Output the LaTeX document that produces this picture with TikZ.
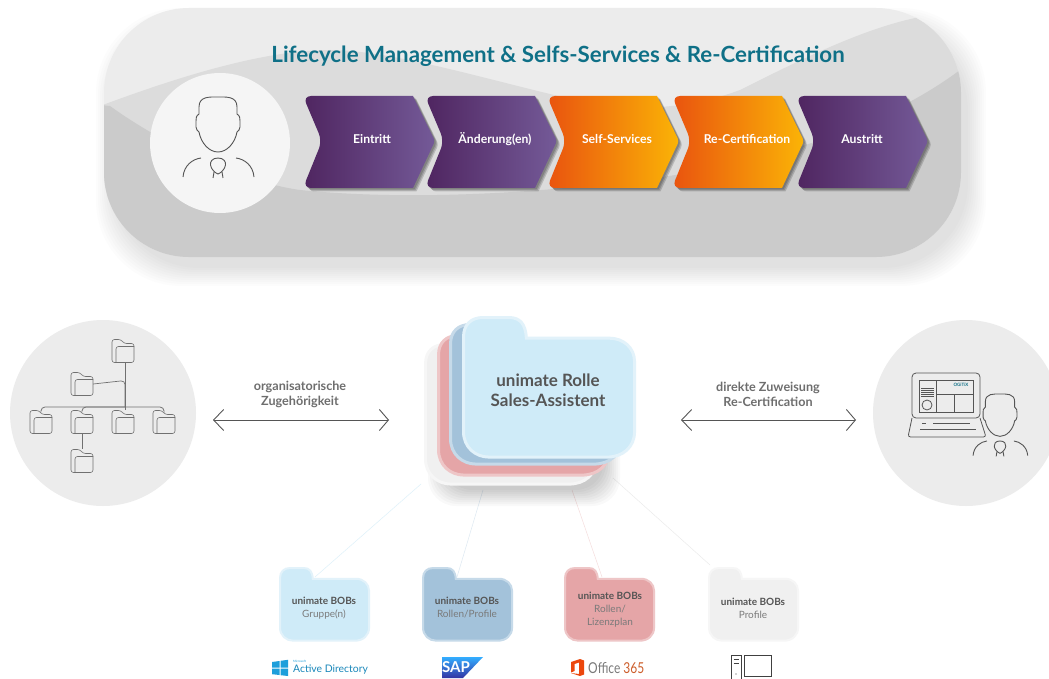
\documentclass[tikz,border=0pt]{standalone}
\usepackage{fontspec}
\setmainfont{Lato}
\usetikzlibrary{arrows.meta,positioning}
\definecolor{bandA}{HTML}{ECECEC}
\definecolor{bandB}{HTML}{DCDCDC}
\definecolor{bandC}{HTML}{CBCBCB}
\definecolor{titleC}{HTML}{0F7087}
\definecolor{txtD}{HTML}{555555}
\definecolor{txtL}{HTML}{7A7A7A}
\definecolor{iconC}{HTML}{555555}
\definecolor{treeC}{HTML}{707070}
\definecolor{purpL}{HTML}{4F2560}
\definecolor{purpR}{HTML}{745A98}
\definecolor{orL}{HTML}{E9530F}
\definecolor{orR}{HTML}{FBB406}
\definecolor{fBlueF}{HTML}{CFEBF8}
\definecolor{fBlueB}{HTML}{E2F2FA}
\definecolor{fSteelF}{HTML}{A3C2DA}
\definecolor{fSteelB}{HTML}{C6DAE9}
\definecolor{fPinkF}{HTML}{E5A5A7}
\definecolor{fPinkB}{HTML}{EEC6C7}
\definecolor{fGreyF}{HTML}{F0F0F0}
\definecolor{fGreyB}{HTML}{F6F6F6}
\tikzset{
  x=1pt,y=-1pt,
  chevlabel/.style={font=\fontsize{12.2}{14}\selectfont\bfseries,text=white,inner sep=0pt},
  arrowlabel/.style={font=\fontsize{12.6}{15}\selectfont\bfseries,text=txtD!85,align=center,inner sep=0pt},
  smalltxt/.style={align=center,inner sep=0pt,font=\fontsize{10}{13}\selectfont,text=txtL},
  twohead/.style={draw=iconC,line width=.9pt,{Straight Barb[length=10pt,width=21pt]}-{Straight Barb[length=9pt,width=21pt]}},
  icon/.style={draw=iconC,line width=.8pt},
  ficon/.style={minimum width=22pt,minimum height=23pt,inner sep=0pt},
  foldericon/.pic={
    \path[draw=treeC,line width=.6pt,fill=none,rounded corners=2.5pt]
      (-11,11.5) -- (-11,-11.5) -- (-2,-11.5) -- (1,-7.5) -- (11,-7.5) -- (11,11.5) -- cycle;
    \path[draw=treeC,line width=.6pt,rounded corners=2.5pt]
      (-7,11.5) -- (-7,-4.5) -- (11,-4.5);
  },
  folderbig/.pic={
    \path[pic actions] (0,20) .. controls (0,7) and (8,0) .. (20,0) -- (46,0)
      .. controls (58,0) and (63,7) .. (64,21) -- (148,21)
      .. controls (163,21) and (174,31) .. (174,45) -- (174,116)
      .. controls (174,132) and (162,142) .. (146,142) -- (26,142)
      .. controls (12,142) and (0,132) .. (0,116) -- cycle;
  },
  personicon/.pic={
    \path[pic actions,line width=.9pt] (0,0)
      .. controls (-8,0) and (-19,-1) .. (-19,10) -- (-19,17)
      .. controls (-22,19) and (-22,21) .. (-22,24) -- (-22,30)
      .. controls (-22,33) and (-20,34) .. (-19,35)
      .. controls (-17,46) and (-9,55) .. (0,55)
      .. controls (9,55) and (17,46) .. (19,35)
      .. controls (20,34) and (22,33) .. (22,30) -- (22,24)
      .. controls (22,21) and (22,19) .. (19,17) -- (19,10)
      .. controls (19,-1) and (8,0) .. (0,0) -- cycle;
    \draw[draw=iconC,line width=.9pt] (-35,80) .. controls (-34,68) and (-25,62) .. (-17,61);
    \draw[draw=iconC,line width=.9pt] (36,80) .. controls (35,68) and (26,62) .. (18,61);
    \draw[draw=iconC,line width=.9pt] (0,61) .. controls (6,61) and (8,65) .. (7.5,68)
      .. controls (7,72) and (3,76) .. (0,77) .. controls (-3,76) and (-7,72) .. (-7.5,68)
      .. controls (-8,65) and (-6,61) .. (0,61) -- cycle;
    \draw[draw=iconC,line width=.9pt] (-4,75) -- (-5,81) (4,75) -- (5,81);
  }
}
\newcommand{\chevshape}{(50,0) [rounded corners=8pt] -- (-2,0) -- (17,45) -- (-2,92) [sharp corners] -- (108,92) [rounded corners=3pt] -- (130,45) [sharp corners] -- (108,0) -- cycle}
\newcommand{\chevron}[6]{%
  \begin{scope}[shift={(#1,96)}]
    \foreach \d in {1.5,2.5,3.5} {\fill[black,opacity=.16,shift={(\d,\d)}] \chevshape;}
    \path[left color=#4,right color=#5] \chevshape;
  \end{scope}
  \node[chevlabel] (#2) at (#6,139) {#3};
}
\begin{document}
\begin{tikzpicture}
\useasboundingbox (0,0) rectangle (1049,679);
\fill[white] (0,0) rectangle (1049,679);
% big panel shadow
\foreach \d in {0,2,...,18} {
  \fill[black,opacity=.012,rounded corners=85pt] (114-\d,26-\d) rectangle (968+\d,268+\d);
}
\begin{scope}
  \clip[rounded corners=85pt] (104,8) rectangle (961,257);
  \fill[bandA] (100,0) rectangle (970,262);
  \fill[bandB] (100,106) .. controls (170,80) and (260,50) .. (330,50)
     .. controls (400,50) and (520,90) .. (600,105)
     .. controls (650,112) and (700,105) .. (740,90)
     .. controls (800,60) and (860,30) .. (915,18) -- (970,10) -- (970,262) -- (100,262) -- cycle;
  \fill[bandC] (100,105) -- (110,106) .. controls (150,135) and (230,180) .. (300,190)
     .. controls (400,200) and (520,195) .. (640,180)
     .. controls (760,165) and (880,130) .. (960,70) -- (970,60) -- (970,262) -- (100,262) -- cycle;
\end{scope}
\node[font=\fontsize{22.3}{26}\selectfont\bfseries,text=titleC,inner sep=0pt] (title) at (558,56) {Lifecycle Management \& Selfs-Services \& Re-Certification};
\node[circle,fill=black!4,minimum size=140pt,inner sep=0pt] (usercircle) at (220,143) {};
\pic[icon,fill=none] at (218,97) {personicon};
\chevron{305}{c1}{Eintritt}{purpL}{purpR}{372}
\chevron{427}{c2}{Änderung(en)}{purpL}{purpR}{495}
\chevron{549}{c3}{Self-Services}{orL}{orR}{617}
\chevron{674}{c4}{Re-Certification}{orL}{orR}{747}
\chevron{798}{c5}{Austritt}{purpL}{purpR}{862}
% side circles
\node[circle,fill=bandA,minimum size=186pt,inner sep=0pt] (orgcircle) at (103,413) {};
\node[circle,fill=bandA,minimum size=186pt,inner sep=0pt] (usrcircle) at (966,413) {};
% folder tree
\node[ficon] (t1) at (123,351) {};
\node[ficon] (t2) at (82,384) {};
\node[ficon] (r1) at (41,422) {};
\node[ficon] (r2) at (82,422) {};
\node[ficon] (r3) at (123,422) {};
\node[ficon] (r4) at (164,422) {};
\node[ficon] (b1) at (82,461) {};
\foreach \n in {t1,t2,r1,r2,r3,r4,b1} {\pic at (\n) {foldericon};}
\coordinate (hub) at (125,407);
\draw[draw=treeC,line width=.7pt] (t1.south -| hub) -- (hub);
\draw[draw=treeC,line width=.7pt,rounded corners=4pt] (t2.east) -- (125,380.5) -- (hub);
\draw[draw=treeC,line width=.8pt,rounded corners=4pt] (r1.north) -- (r1.north |- hub) -- (r4.north |- hub) -- (r4.north);
\draw[draw=treeC,line width=.8pt,rounded corners=4pt] (r2.north) -- (r2.north |- hub) -- (hub);
\draw[draw=treeC,line width=.7pt] (hub) -- (r3.north -| hub);
\draw[draw=treeC,line width=.7pt] (r2.south) -- (b1.north);
% double arrows
\coordinate (al) at (213,420);
\coordinate (ar) at (389,420);
\coordinate (bl) at (681,420);
\coordinate (br) at (856,420);
\draw[twohead] (al) -- (ar);
\draw[twohead] (bl) -- (br);
\node[arrowlabel] (lab1) at (300,394) {organisatorische\\Zugehörigkeit};
\node[arrowlabel] (lab2) at (768,394) {direkte Zuweisung\\Re-Certification};
% laptop
\draw[icon,fill=none,rounded corners=4pt] (912,373) rectangle (980,418);
\draw[icon,fill=none] (919,380) rectangle (973,412);
\draw[icon] (936,380) -- (936,412) (936,394) -- (973,394) (954,394) -- (954,412);
\foreach \yy in {388,390,392,394,396} {\draw[draw=iconC,line width=.4pt] (921,\yy) -- (934,\yy);}
\draw[icon] (927,405) circle (5);
\node[inner sep=0pt,font=\fontsize{4.5}{5}\selectfont\bfseries,text=titleC] (ogitix) at (961,385) {OGiTiX};
\draw[icon,rounded corners=2.5pt] (912,418) -- (908,437) -- (986,437) -- (980,418);
\draw[icon] (922,423) -- (926,423) (933,423) -- (970,423) (920,429) -- (976,429);
\pic[icon,fill=bandA,scale=.77] at (1000,394) {personicon};
% connectors to bobs
\coordinate (ca) at (421,484);
\coordinate (cb) at (483,490);
\coordinate (cc) at (572,490);
\coordinate (cd) at (613,478);
\coordinate (ba) at (315,577);
\coordinate (bb) at (457,577);
\coordinate (bc) at (602,577);
\coordinate (bd) at (710,565);
\draw[draw=fBlueF!70,line width=.5pt] (ca) -- (ba);
\draw[draw=fSteelB!60,line width=.5pt] (cb) -- (bb);
\draw[draw=fPinkB!60,line width=.5pt] (cc) -- (bc);
\draw[draw=black!8,line width=.5pt] (cd) -- (bd);
% centre stack shadow
\foreach \d in {0,2,...,16} {
  \fill[black,opacity=.022,rounded corners=28pt] (444-\d,430-\d) rectangle (604+\d,490+\d);
}
\pic[draw=fGreyB,fill=fGreyF,line width=3pt,scale=.983] at (425.5,344.5) {folderbig};
\pic[draw=fPinkB,fill=fPinkF,line width=3pt,scale=.983] at (438.5,335.5) {folderbig};
\pic[draw=fSteelB,fill=fSteelF,line width=3pt,scale=.983] at (450.5,324.5) {folderbig};
\pic[draw=fBlueB,fill=fBlueF,line width=3pt,scale=.983] at (463.5,317.5) {folderbig};
\node[align=center,inner sep=0pt,font=\fontsize{17}{20}\selectfont\bfseries,text=txtD] (role) at (548,390) {unimate Rolle\\Sales-Assistent};
% small folders
\pic[draw=fBlueB,fill=fBlueF,line width=2pt,scale=.512] at (280,568) {folderbig};
\pic[draw=fSteelB,fill=fSteelF,line width=2pt,scale=.512] at (423,568) {folderbig};
\pic[draw=fPinkB,fill=fPinkF,line width=2pt,scale=.512] at (565,568) {folderbig};
\pic[draw=fGreyB,fill=fGreyF,line width=2pt,scale=.512] at (709,568) {folderbig};
\node[smalltxt] (s1) at (324,608) {\textbf{\textcolor{txtD}{unimate BOBs}}\\Gruppe(n)};
\node[smalltxt] (s2) at (467,608) {\textbf{\textcolor{txtD}{unimate BOBs}}\\Rollen/Profile};
\node[smalltxt] (s3) at (610,610) {\textbf{\textcolor{txtD}{unimate BOBs}}\\Rollen/\\Lizenzplan};
\node[smalltxt] (s4) at (753,608) {\textbf{\textcolor{txtD}{unimate BOBs}}\\Profile};
% logos
\definecolor{msblue}{HTML}{1E9FDB}
\fill[msblue] (272,662) -- (279.5,661) -- (279.5,667.5) -- (272,667.5) -- cycle;
\fill[msblue] (280.5,660.8) -- (288,659.8) -- (288,667.5) -- (280.5,667.5) -- cycle;
\fill[msblue] (272,668.5) -- (279.5,668.5) -- (279.5,675) -- (272,674.2) -- cycle;
\fill[msblue] (280.5,668.5) -- (288,668.5) -- (288,676) -- (280.5,675.2) -- cycle;
\node[inner sep=0pt,anchor=west,font=\fontsize{3}{3}\selectfont,text=msblue] (mslabel) at (293,661.5) {Microsoft};
\node[inner sep=0pt,anchor=west,font=\fontsize{10.4}{12}\selectfont,text=msblue!85!black] (adlabel) at (293,670) {Active Directory};
\path[top color=cyan!60!blue!80,bottom color=blue!55!black!80] (442,657) -- (483,657) -- (463,678) -- (442,678) -- cycle;
\node[inner sep=0pt,font=\fontsize{15}{15}\selectfont\bfseries,text=white] (saplabel) at (456,667.5) {SAP};
\fill[orL!85!red] (571,662) -- (580,659) -- (584,660.5) -- (584,674.5) -- (580,676) -- (571,673) -- (579,674) -- (579,662.5) -- (574.5,664) -- (574.5,671) -- (571,672.5) -- cycle;
\node[inner sep=0pt,anchor=west,text=txtL] (officelabel) at (588,668) {\scalebox{.8}[1]{\fontsize{15}{15}\selectfont Office \textcolor{orL!75!txtL}{365}}};
\draw[draw=black!75,line width=.8pt] (731,679) -- (731,655.5) -- (741,655.5) -- (741,679);
\draw[draw=black!75,line width=.8pt] (733.5,659.5) -- (738.5,659.5) (733.5,663) -- (738.5,663);
\fill[black!75] (736,674) circle (.7);
\draw[draw=black!75,line width=.8pt] (744,655.5) rectangle (771,676);
\end{tikzpicture}
\end{document}
